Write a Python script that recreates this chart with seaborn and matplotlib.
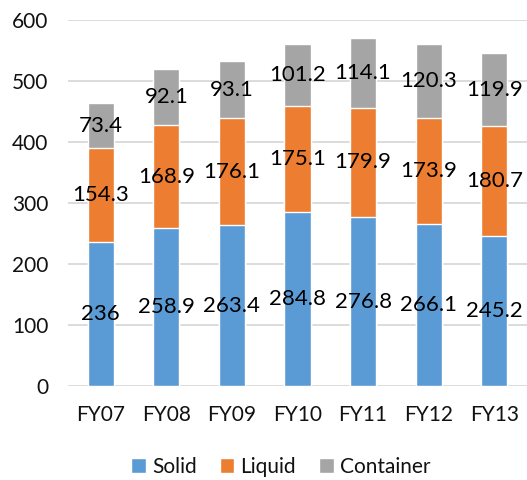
import matplotlib
matplotlib.use("Agg")
import matplotlib.pyplot as plt
import seaborn as sns
import pandas as pd
import numpy as np
from matplotlib.patches import Patch

years = ["FY07", "FY08", "FY09", "FY10", "FY11", "FY12", "FY13"]
solid = [236, 258.9, 263.4, 284.8, 276.8, 266.1, 245.2]
liquid = [154.3, 168.9, 176.1, 175.1, 179.9, 173.9, 180.7]
container = [73.4, 92.1, 93.1, 101.2, 114.1, 120.3, 119.9]

series = ["Solid", "Liquid", "Container"]
colors = ["#5B9BD5", "#ED7D31", "#A5A5A5"]

sns.set_theme(style="white")
plt.rcParams["font.family"] = ["Lato", "DejaVu Sans"]

df = pd.DataFrame({"year": years, "Solid": solid, "Liquid": liquid, "Container": container})
df["top_liquid"] = df["Solid"] + df["Liquid"]
df["total"] = df["top_liquid"] + df["Container"]

fig = plt.figure(figsize=(5.27, 4.8), dpi=100)
ax = fig.add_axes([0.129, 0.196, 0.871, 0.762])

# stacked bars: draw cumulative heights back to front
for col, color in [("total", colors[2]), ("top_liquid", colors[1]), ("Solid", colors[0])]:
    sns.barplot(data=df, x="year", y=col, color=color, width=0.4, saturation=1,
                ax=ax, zorder=3)

# segment value labels, centred in each segment
bottom = np.zeros(len(years))
for name in series:
    vals = df[name].to_numpy()
    for x, b, v in zip(range(len(years)), bottom, vals):
        ax.text(x, b + v / 2, f"{v:g}", ha="center", va="center", fontsize=16,
                color="black", zorder=4)
    bottom += vals

ax.set_xlim(-0.5, len(years) - 0.5)
ax.set_ylim(0, 600)
ax.set_yticks(range(0, 601, 100))
ax.yaxis.grid(True, color="#D9D9D9", linewidth=1.3, zorder=0)
ax.set_axisbelow(True)
for s in ax.spines.values():
    s.set_visible(False)
ax.tick_params(axis="both", length=0, labelsize=15, colors="#111111")
ax.tick_params(axis="x", pad=14)
ax.tick_params(axis="y", pad=14)
ax.set_xlabel("")
ax.set_ylabel("")

handles = [Patch(facecolor=c, label=n) for n, c in zip(series, colors)]
fig.legend(handles=handles, loc="center", bbox_to_anchor=(0.533, 0.028), ncol=3, frameon=False,
           fontsize=15, handlelength=0.7, handleheight=0.7, handletextpad=0.3, columnspacing=1.1,
           labelcolor="#111111")

fig.savefig("out.png", dpi=100, facecolor="white")
